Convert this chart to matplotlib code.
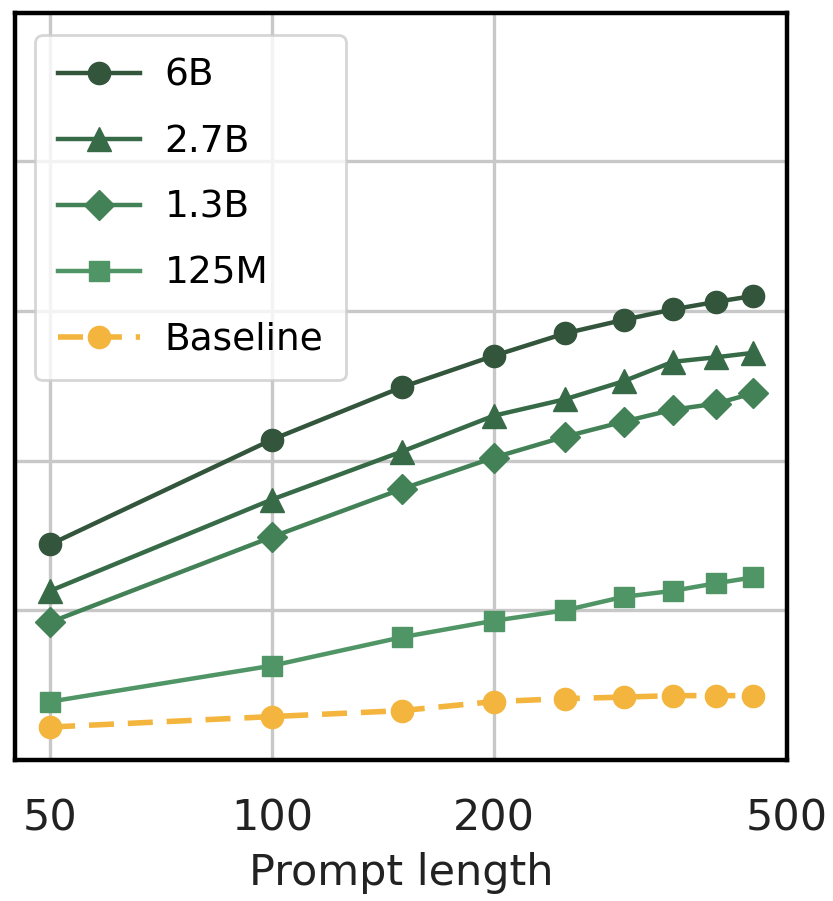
import matplotlib
matplotlib.use("Agg")
import matplotlib.pyplot as plt
from matplotlib.ticker import FixedLocator, NullFormatter, NullLocator

prompt_length = [50, 100, 150, 200, 250, 300, 350, 400, 450]
y_6b = [0.144, 0.214, 0.249, 0.270, 0.285, 0.294, 0.301, 0.306, 0.310]
y_2_7b = [0.113, 0.174, 0.206, 0.230, 0.241, 0.253, 0.266, 0.269, 0.272]
y_1_3b = [0.092, 0.149, 0.181, 0.202, 0.216, 0.226, 0.234, 0.238, 0.245]
y_125m = [0.039, 0.063, 0.082, 0.093, 0.100, 0.109, 0.113, 0.118, 0.122]
y_base = [0.022, 0.029, 0.033, 0.039, 0.041, 0.042, 0.043, 0.043, 0.043]
labels = ["6B", "2.7B", "1.3B", "125M", "Baseline"]
xticks = [50, 100, 200, 500]
yticks = [0.1, 0.2, 0.3, 0.4]

plt.rcParams['font.family'] = ['DejaVu Sans']

fig = plt.figure(figsize=(8.33, 9.01), dpi=100)
ax = fig.add_axes([15/833, 1 - 760/901, (787 - 15)/833, (760 - 13)/901])

ax.plot(prompt_length, y_6b, marker='o', ms=16, lw=3.2, color='#32553b', label=labels[0], zorder=3)
ax.plot(prompt_length, y_2_7b, marker='^', ms=17, lw=3.2, color='#376b47', label=labels[1], zorder=3)
ax.plot(prompt_length, y_1_3b, marker='D', ms=15, lw=3.2, color='#438157', label=labels[2], zorder=3)
ax.plot(prompt_length, y_125m, marker='s', ms=15, lw=3.2, color='#4f9565', label=labels[3], zorder=3)
ax.plot(prompt_length, y_base, marker='o', ms=16, lw=4, color='#f3b53d', label=labels[4],
        linestyle=(0, (4.5, 2.5)), zorder=3)

ax.set_xscale('log')
ax.set_xlim(44.8, 500)
ax.set_ylim(0.0, 0.499)
ax.xaxis.set_major_locator(FixedLocator(xticks))
ax.xaxis.set_minor_locator(NullLocator())
ax.set_xticklabels([str(t) for t in xticks])
ax.yaxis.set_major_locator(FixedLocator(yticks))
ax.yaxis.set_major_formatter(NullFormatter())
ax.tick_params(axis='both', length=0, labelsize=31, labelcolor='#222222', pad=27)
ax.grid(True, color='#c8c8c8', lw=2.4, zorder=0)
ax.set_axisbelow(True)
for s in ax.spines.values():
    s.set_linewidth(3.2)
    s.set_color('black')
ax.set_xlabel("Prompt length", fontsize=31, color='#222222', labelpad=9)

leg = ax.legend(loc='upper left', bbox_to_anchor=(0.026, 0.97), fontsize=27,
                handlelength=2.2, handletextpad=0.65, labelspacing=0.8,
                borderpad=0.6, borderaxespad=0.0, framealpha=0.8,
                edgecolor='#cccccc', fancybox=True)
leg.get_frame().set_linewidth(2)

fig.savefig("out.png", dpi=100)
